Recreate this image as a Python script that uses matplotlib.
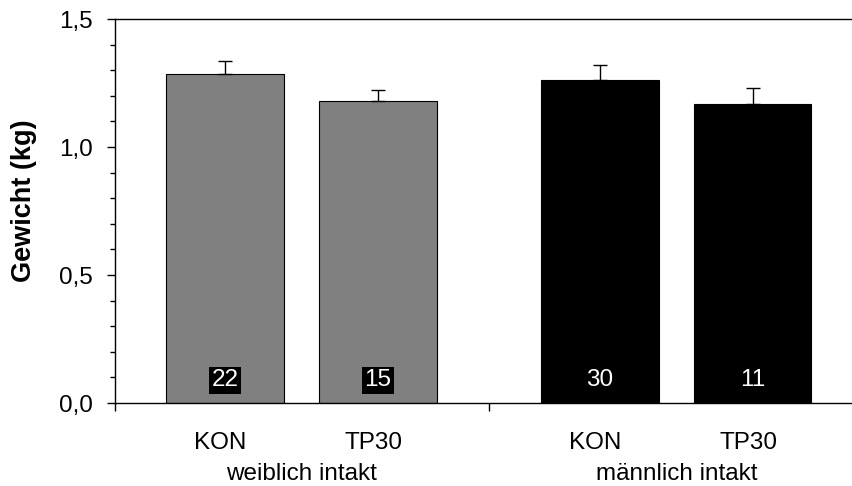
import matplotlib
matplotlib.use("Agg")
import matplotlib.pyplot as plt
import matplotlib.transforms as mtransforms
from matplotlib.ticker import MultipleLocator, FuncFormatter

plt.rcParams['font.family'] = ['Liberation Sans', 'DejaVu Sans']

# data
groups = ["weiblich intakt", "männlich intakt"]
treatments = ["KON", "TP30", "KON", "TP30"]
means = [1.285, 1.181, 1.260, 1.167]
sems = [0.051, 0.042, 0.061, 0.065]
counts = ["22", "15", "30", "11"]
colors = ["#808080", "#808080", "#000000", "#000000"]

positions = [0.0, 1.0, 2.454, 3.454]
bar_width = 0.77
FS = 17.5

fig = plt.figure(figsize=(8.53, 4.86), dpi=100)
ax = fig.add_axes([115/853, 83/486, 1 - 115/853, 384/486])

ax.bar(positions, means, width=bar_width, color=colors, edgecolor="black",
       linewidth=0.8, zorder=2)
ax.errorbar(positions, means, yerr=[[0]*4, sems], fmt="none", ecolor="black",
            elinewidth=1.0, capsize=4.7, capthick=1.0, zorder=3)

for x, c, col in zip(positions, counts, colors):
    if col == "#000000":
        ax.text(x, 0.088, c, ha="center", va="center", color="white",
                fontsize=FS, zorder=4)
    else:
        ax.text(x, 0.088, c, ha="center", va="center", color="white",
                fontsize=FS, zorder=4,
                bbox=dict(boxstyle="square,pad=0.1", fc="black", ec="none"))

xmin = -0.722
xmax = xmin + (853 - 115) / 152.7
ax.set_xlim(xmin, xmax)
ax.set_ylim(0, 1.5)

sep = (positions[1] + positions[2]) / 2
ax.set_xticks([xmin, sep])
ax.set_xticklabels([])
ax.tick_params(axis="x", direction="out", length=5.8, width=1.0)

ax.yaxis.set_major_locator(MultipleLocator(0.5))
ax.yaxis.set_minor_locator(MultipleLocator(0.1))
ax.yaxis.set_major_formatter(FuncFormatter(lambda v, p: f"{v:.1f}".replace(".", ",")))
ax.tick_params(axis="y", which="major", direction="out", length=5.8, width=1.0,
               labelsize=FS, pad=10)
ax.tick_params(axis="y", which="minor", direction="out", length=3.6, width=1.0)

for s in ["left", "bottom", "top"]:
    ax.spines[s].set_linewidth(1.0)
ax.spines["right"].set_visible(False)

trans = mtransforms.blended_transform_factory(ax.transData, ax.transAxes)
for x, t in zip(positions, treatments):
    ax.text(x - 0.03, -0.1206, t, transform=trans, ha="center", va="baseline",
            fontsize=FS)
group_centers = [(positions[0] + positions[1]) / 2, (positions[2] + positions[3]) / 2]
for x, g in zip(group_centers, groups):
    ax.text(x, -0.2005, g, transform=trans, ha="center", va="baseline",
            fontsize=FS)

ax.set_ylabel("Gewicht (kg)", fontsize=19.5, fontweight="bold")
ax.yaxis.set_label_coords(-0.1057, 0.527)

fig.savefig("out.png", dpi=100)
